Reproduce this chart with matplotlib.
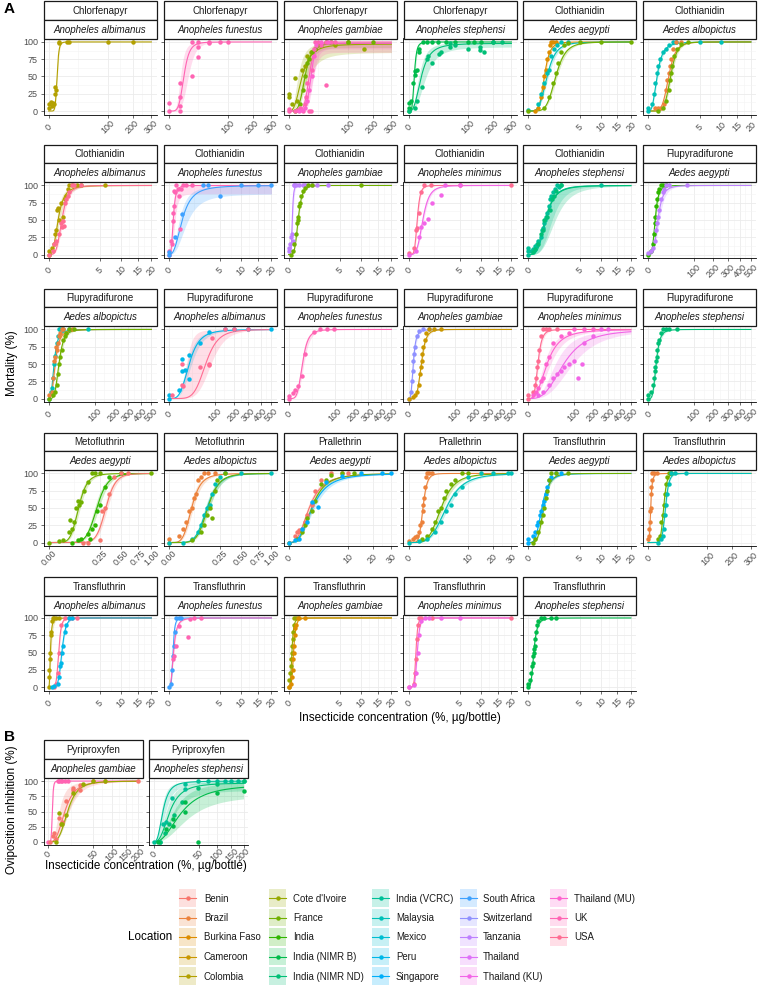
import numpy as np
import matplotlib
matplotlib.use("Agg")
import matplotlib.pyplot as plt
from matplotlib.patches import Rectangle

plt.rcParams['font.family'] = ['Liberation Sans', 'DejaVu Sans']

W, H = 762, 991

LOCATIONS = ["Benin", "Brazil", "Burkina Faso", "Cameroon", "Colombia", "Cote d'Ivoire",
             "France", "India", "India (NIMR B)", "India (NIMR ND)", "India (VCRC)",
             "Malaysia", "Mexico", "Peru", "Singapore", "South Africa", "Switzerland",
             "Tanzania", "Thailand", "Thailand (KU)", "Thailand (MU)", "UK", "USA"]

TICKS_CHLOR = [0, 100, 200, 300]
TICKS_20 = [0, 5, 10, 15, 20]
TICKS_FLUPY = [0, 100, 200, 300, 400, 500]
TICKS_METO = [0, 0.25, 0.5, 0.75, 1.0]
TICKS_PRALL = [0, 10, 20, 30]
TICKS_PYRI = [0, 50, 100, 150, 200]
YTICKS = [0, 25, 50, 75, 100]

# series: (location, concentrations, mortality, (ec50, slope, top, ec_lo, ec_hi, top_lo))
chlorfenapyr_albimanus = [
    ("Colombia", [0, 0, 0.1, 0.3, 0.5, 0.8, 1.0, 1.2, 1.4, 2.9, 3.2, 10, 12, 100, 200],
     [10, 5, 13, 8, 12, 10, 25, 35, 30, 100, 98, 100, 100, 100, 100], (2.0, 4.5, 100, 1.8, 2.2, 100)),
]
chlorfenapyr_funestus = [
    ("UK", [0, 0, 4, 4, 4, 4, 15, 15, 24, 24, 24, 47, 47, 74, 100],
     [0, 12, 40, 20, 8, 0, 50, 100, 92, 78, 100, 98, 100, 100, 100], (6.6, 2.8, 100, 4, 11, 100)),
]
chlorfenapyr_gambiae = [
    ("Cote d'Ivoire", [0, 0, 0.3, 1.3, 2, 5, 8, 10, 14, 20, 24, 40, 60, 100, 160],
     [20, 25, 10, 48, 15, 60, 65, 80, 85, 90, 95, 100, 95, 100, 90], (5, 1.5, 97, 2.5, 9, 85)),
    ("France", [1, 2, 4, 6, 8, 10, 12, 15, 20, 30, 50, 100, 200],
     [0, 2, 10, 30, 50, 70, 75, 85, 90, 95, 100, 100, 100], (7.5, 2.5, 98, 6, 9, 92)),
    ("UK", [0, 0, 1, 2, 4, 6, 8, 9, 10, 12, 14, 15, 18, 20, 25, 30, 40, 40, 50, 60],
     [0, 3, 0, 2, 5, 0, 10, 20, 40, 0, 0, 60, 90, 100, 100, 95, 38, 100, 100, 100], (12, 4, 100, 9, 16, 85)),
    ("Thailand (MU)", [3, 5, 8, 10, 12, 15, 18, 22, 30, 45],
     [0, 2, 5, 15, 30, 50, 80, 95, 100, 100], (14, 5, 98, 11, 17, 90)),
]
chlorfenapyr_stephensi = [
    ("India (NIMR B)", [0, 0, 0, 0.2, 0.5, 1, 1.2, 2, 3, 3.2, 6, 10, 15, 25, 40, 60, 100, 120, 150, 200],
     [0, 5, 12, 15, 40, 52, 58, 60, 85, 90, 100, 100, 100, 100, 100, 100, 100, 100, 100, 100],
     (0.9, 2.5, 100, 0.7, 1.1, 100)),
    ("India (NIMR ND)", [0, 1, 2, 5, 9.5, 11, 15, 26, 30, 49, 49, 60, 100, 146, 146, 160, 200, 250],
     [0, 5, 15, 35, 75, 80, 70, 82, 85, 98, 92, 95, 90, 88, 92, 85, 100, 100], (4.5, 1.5, 98, 3, 8, 93)),
]
clothianidin_aegypti = [
    ("Burkina Faso", [0.1, 0.2, 0.3, 0.4, 0.5, 0.6, 0.7, 0.8, 0.9, 1.0, 1.2, 1.5],
     [0, 5, 20, 35, 50, 60, 75, 85, 95, 100, 100, 100], (0.5, 3, 100, 0.45, 0.56, 100)),
    ("Malaysia", [0, 0.2, 0.3, 0.5, 0.7, 0.8, 1.0, 1.3, 1.6, 2, 3],
     [2, 10, 25, 40, 55, 60, 80, 90, 95, 100, 100], (0.68, 2.2, 100, 0.6, 0.78, 100)),
    ("France", [0, 0.5, 0.8, 1.2, 1.5, 1.7, 2, 2.5, 3, 5, 10, 20],
     [0, 5, 20, 40, 55, 70, 85, 95, 98, 100, 100, 100], (1.45, 2.8, 100, 1.3, 1.6, 100)),
]
clothianidin_albopictus = [
    ("Malaysia", [0, 0, 0.03, 0.06, 0.1, 0.15, 0.2, 0.25, 0.4, 0.6, 0.8, 1.2, 1.5, 5, 10],
     [0, 5, 10, 25, 40, 55, 65, 75, 85, 90, 95, 100, 100, 100, 100], (0.15, 1.6, 100, 0.12, 0.18, 100)),
    ("Brazil", [0.1, 0.2, 0.3, 0.5, 0.6, 0.7, 0.8, 0.9, 1.0, 1.2, 1.5, 2],
     [5, 5, 5, 10, 30, 45, 55, 65, 75, 90, 100, 100], (0.8, 3, 100, 0.72, 0.88, 100)),
    ("France", [0.2, 0.4, 0.6, 0.8, 0.9, 1.0, 1.1, 1.3, 1.6, 2, 3],
     [0, 5, 15, 30, 45, 55, 65, 80, 90, 97, 100], (0.95, 3.5, 100, 0.87, 1.05, 100)),
]
clothianidin_albimanus = [
    ("Colombia", [0, 0, 0.02, 0.05, 0.08, 0.1, 0.12, 0.15, 0.2, 0.3, 0.4, 0.5, 0.6, 0.7, 0.8, 1, 1.5, 2, 6],
     [0, 5, 10, 15, 30, 35, 65, 68, 50, 75, 55, 80, 85, 95, 100, 100, 100, 100, 100],
     (0.17, 1.6, 100, 0.12, 0.24, 100)),
    ("USA", [0, 0.03, 0.05, 0.1, 0.2, 0.3, 0.35, 0.4, 0.45, 0.5, 0.6, 0.7, 0.8, 1.0, 1.2, 2],
     [0, 5, 15, 20, 30, 45, 40, 48, 42, 75, 80, 85, 90, 100, 100, 100], (0.33, 2.2, 100, 0.27, 0.4, 100)),
]
clothianidin_funestus = [
    ("UK", [0, 0, 0.01, 0.02, 0.03, 0.04, 0.05, 0.06, 0.08, 0.1, 0.15, 0.2, 0.25, 0.3, 0.4, 0.6, 1.0],
     [5, 0, 20, 15, 60, 48, 92, 70, 90, 100, 95, 85, 37, 95, 100, 100, 100], (0.04, 2.0, 100, 0.025, 0.07, 88)),
    ("South Africa", [0, 0, 0.08, 0.33, 2.3, 3, 5, 10, 15, 20],
     [0, 3, 25, 58, 100, 100, 85, 100, 100, 100], (0.35, 1.4, 100, 0.22, 0.6, 88)),
]
clothianidin_gambiae = [
    ("Tanzania", [0, 0, 0.005, 0.01, 0.02, 0.03, 0.05, 0.06, 0.1, 0.2, 0.4, 0.5, 1, 1.5, 3],
     [5, 10, 15, 25, 30, 20, 100, 100, 100, 100, 100, 100, 100, 100, 100], (0.025, 3, 100, 0.018, 0.034, 100)),
    ("France", [0.01, 0.03, 0.06, 0.1, 0.12, 0.15, 0.18, 0.2, 0.25, 0.3, 0.4, 0.5, 0.7, 1, 10],
     [0, 5, 15, 30, 45, 50, 55, 70, 75, 85, 92, 97, 100, 100, 100], (0.17, 2.5, 100, 0.15, 0.19, 100)),
]
clothianidin_minimus = [
    ("USA", [0, 0.05, 0.1, 0.13, 0.2, 0.3, 0.45, 0.95, 5, 20],
     [2, 10, 35, 38, 60, 90, 100, 100, 100, 100], (0.14, 3, 100, 0.12, 0.16, 100)),
    ("Thailand (KU)", [0, 0.1, 0.2, 0.3, 0.45, 0.7, 1, 2, 2.5, 5],
     [0, 5, 25, 40, 45, 52, 75, 86, 100, 100], (0.38, 2.2, 100, 0.33, 0.43, 100)),
]
clothianidin_stephensi = [
    ("India (VCRC)", [0, 0, 0, 0.02, 0.05, 0.1, 0.15, 0.2, 0.3, 0.35, 0.4, 0.5, 0.55, 0.6, 0.7, 0.8, 0.9, 1.0,
                      1.2, 1.4, 1.6, 1.8, 2.0, 10],
     [0, 5, 10, 5, 8, 12, 15, 20, 25, 35, 38, 45, 50, 55, 60, 70, 80, 85, 90, 95, 100, 98, 100, 100],
     (0.6, 2.0, 100, 0.5, 1.1, 100)),
    ("India (NIMR ND)", [0.05, 0.1, 0.2, 0.3, 0.4, 0.5, 0.7, 0.9, 1.1, 1.3, 1.5, 2],
     [3, 8, 15, 30, 35, 50, 55, 65, 80, 85, 92, 100], (0.55, 1.8, 100, 0.45, 1.4, 100)),
]
flupyradifurone_aegypti = [
    ("India", [0, 0.5, 1, 1.5, 2, 2.5, 3, 4, 5, 6, 8, 10, 15],
     [0, 5, 15, 30, 45, 55, 70, 80, 90, 95, 100, 100, 100], (2.3, 2.2, 100, 1.8, 2.8, 100)),
    ("Tanzania", [0, 0.5, 1, 2, 3, 4, 5, 6, 8, 10, 12, 15, 20, 70],
     [2, 5, 10, 20, 35, 45, 55, 65, 80, 90, 95, 100, 100, 100], (4.5, 2.0, 100, 3.3, 6, 100)),
]
flupyradifurone_albopictus = [
    ("Malaysia", [0, 0.3, 0.5, 1, 1.5, 2, 3, 4, 5, 6, 8, 10, 20, 75],
     [0, 10, 15, 30, 50, 62, 80, 90, 100, 100, 100, 100, 100, 100], (1.4, 1.6, 100, 1.1, 1.8, 100)),
    ("Brazil", [0, 0.5, 1, 1.5, 2, 2.5, 3, 4, 5, 6, 8, 10, 15, 25],
     [5, 10, 30, 55, 60, 75, 70, 80, 90, 95, 100, 100, 95, 100], (2.0, 1.6, 100, 1.6, 2.5, 100)),
    ("France", [0, 1, 2, 3, 4, 5, 6, 8, 10, 12, 15, 20, 30],
     [0, 5, 10, 20, 35, 50, 60, 70, 85, 90, 95, 100, 100], (5, 2.2, 100, 4.2, 6, 100)),
]
flupyradifurone_albimanus = [
    ("Peru", [0, 0, 4.8, 8.5, 9, 13, 19, 19, 48, 77, 150, 200, 300, 500],
     [0, 5, 12, 57, 40, 42, 63, 28, 80, 97, 100, 100, 100, 100], (20, 2.0, 100, 16, 25, 100)),
    ("USA", [0.5, 9, 8.5, 10, 48, 77, 77, 90, 150, 200, 300],
     [5, 50, 20, 18, 45, 50, 48, 88, 100, 100, 100], (65, 3, 100, 15, 85, 100)),
]
flupyradifurone_funestus = [
    ("UK", [0, 0, 0.9, 2.1, 4.2, 8.5, 13, 30, 48, 70, 97],
     [0, 3, 8, 12, 18, 32, 64, 97, 100, 100, 100], (9, 2.5, 100, 7.5, 11, 100)),
]
flupyradifurone_gambiae = [
    ("Switzerland", [0, 0.2, 0.5, 0.8, 1, 1.5, 2, 3, 5, 10, 20],
     [0, 10, 25, 40, 55, 65, 75, 90, 98, 100, 100], (1.0, 1.8, 100, 0.8, 1.3, 100)),
    ("Cameroon", [0, 1, 2, 3, 5, 6, 7, 8, 9, 10, 12, 15, 20, 30, 50],
     [0, 2, 5, 10, 20, 35, 45, 55, 65, 75, 85, 95, 100, 100, 100], (7.5, 2.8, 100, 6.8, 8.3, 100)),
]
flupyradifurone_minimus = [
    ("USA", [0, 0, 1, 2, 3, 4, 5, 6, 8, 10, 15, 20, 40],
     [0, 5, 10, 20, 30, 45, 55, 70, 90, 100, 100, 100, 100], (4.5, 2.5, 100, 3.8, 5.3, 100)),
    ("Thailand (MU)", [1, 3, 5, 8, 10, 15, 20, 30, 50, 80, 100, 150, 200],
     [5, 10, 15, 25, 30, 50, 60, 80, 90, 95, 100, 100, 100], (17, 1.5, 100, 12, 24, 100)),
    ("Thailand (KU)", [5, 10, 20, 30, 40, 50, 60, 80, 100, 120, 140, 150, 200, 250, 300],
     [5, 10, 20, 30, 35, 40, 45, 50, 55, 30, 50, 80, 90, 100, 100], (60, 1.6, 100, 35, 95, 100)),
]
flupyradifurone_stephensi = [
    ("India (NIMR ND)", [0, 0, 0.5, 1, 1.5, 2, 2.5, 3, 3.5, 4, 5, 6, 8, 10, 15, 20, 40],
     [0, 5, 10, 20, 30, 40, 45, 55, 60, 70, 80, 85, 95, 100, 100, 100, 100], (3.0, 2.2, 100, 2.5, 3.6, 100)),
]
metofluthrin_aegypti = [
    ("France", [0, 0.01, 0.02, 0.04, 0.045, 0.05, 0.06, 0.07, 0.08, 0.09, 0.1, 0.12, 0.15, 0.18, 0.2, 0.25, 1.0],
     [0, 2, 3, 15, 32, 20, 30, 50, 60, 55, 58, 75, 88, 100, 100, 100, 100], (0.085, 3.5, 100, 0.075, 0.095, 100)),
    ("India", [0.05, 0.08, 0.1, 0.15, 0.16, 0.18, 0.2, 0.22, 0.25, 0.3, 0.35, 0.5],
     [0, 3, 5, 12, 5, 20, 25, 45, 55, 80, 95, 100], (0.22, 4.5, 100, 0.2, 0.24, 100)),
    ("Benin", [0.11, 0.15, 0.25, 0.27, 0.3, 0.35, 0.4, 0.5, 0.6],
     [0, 0, 3, 45, 50, 70, 95, 100, 100], (0.31, 6, 100, 0.29, 0.33, 100)),
]
metofluthrin_albopictus = [
    ("Brazil", [0, 0, 0.01, 0.02, 0.03, 0.04, 0.05, 0.06, 0.07, 0.08, 0.1, 0.12, 0.15, 0.2],
     [0, 5, 10, 20, 30, 45, 50, 65, 70, 90, 95, 100, 100, 100], (0.05, 2.5, 100, 0.042, 0.058, 100)),
    ("Malaysia", [0, 0.02, 0.05, 0.08, 0.1, 0.12, 0.14, 0.16, 0.18, 0.2, 0.25, 0.3, 0.5, 1.0],
     [0, 0, 5, 15, 25, 40, 50, 55, 70, 85, 95, 100, 100, 100], (0.14, 3.2, 100, 0.125, 0.155, 100)),
    ("France", [0.05, 0.1, 0.12, 0.14, 0.16, 0.18, 0.2, 0.22, 0.3],
     [3, 15, 25, 40, 50, 35, 75, 90, 100], (0.145, 3.5, 100, 0.13, 0.16, 100)),
]
prallethrin_aegypti = [
    ("Benin", [0, 0.1, 0.2, 0.3, 0.5, 0.8, 1, 1.5, 2, 3, 5, 8, 10],
     [0, 10, 15, 18, 20, 30, 40, 55, 75, 90, 100, 100, 100], (1.2, 1.5, 100, 1.0, 1.4, 100)),
    ("France", [0, 0.2, 0.5, 0.8, 1, 1.5, 2, 3, 4, 5, 8, 12],
     [0, 5, 15, 25, 35, 45, 60, 85, 90, 98, 100, 100], (1.5, 1.7, 100, 1.3, 1.7, 100)),
    ("Singapore", [0, 0.1, 0.3, 0.5, 1.0, 1.5, 2.5, 4, 8, 15, 25, 30],
     [0, 3, 5, 20, 30, 58, 52, 87, 97, 100, 100, 100], (1.6, 1.5, 100, 1.35, 1.9, 100)),
]
prallethrin_albopictus = [
    ("Brazil", [0, 0.05, 0.1, 0.2, 0.3, 0.4, 0.5, 0.55, 0.6, 0.7, 0.8, 0.9, 1.0, 1.2, 1.5],
     [2, 5, 8, 10, 15, 25, 30, 45, 55, 65, 80, 95, 100, 100, 100], (0.58, 3.5, 100, 0.54, 0.62, 100)),
    ("France", [0.5, 1, 1.5, 2, 2.5, 3, 3.5, 4, 5, 6, 8, 10],
     [5, 10, 20, 30, 45, 50, 65, 75, 85, 90, 100, 100], (3.0, 2.4, 100, 2.7, 3.4, 100)),
    ("Malaysia", [0, 0.3, 1, 2, 3, 4, 5, 6, 8, 10, 15, 20, 28, 30],
     [0, 2, 5, 15, 30, 45, 55, 70, 80, 95, 100, 100, 100, 100], (4.0, 2.2, 100, 3.6, 4.5, 100)),
]
transfluthrin_aegypti = [
    ("Singapore", [0, 0, 0.05, 0.1, 0.15, 0.2, 0.25, 0.3, 0.4, 0.5, 0.6, 0.7, 0.8, 1, 1.5, 2],
     [0, 5, 10, 15, 25, 30, 40, 45, 55, 60, 70, 80, 90, 95, 100, 100], (0.35, 2.0, 100, 0.31, 0.4, 100)),
    ("France", [0.05, 0.1, 0.2, 0.3, 0.4, 0.5, 0.6, 0.7, 0.8, 1, 1.5, 3],
     [0, 5, 15, 30, 40, 50, 65, 75, 90, 100, 100, 100], (0.45, 2.6, 100, 0.41, 0.5, 100)),
]
transfluthrin_albopictus = [
    ("Brazil", [0, 0.02, 0.05, 0.1, 0.15, 0.2, 0.25, 0.3, 0.4, 0.5, 1, 2],
     [5, 10, 20, 30, 45, 50, 70, 80, 90, 100, 100, 100], (0.18, 1.8, 100, 0.15, 0.22, 100)),
    ("France", [3, 4, 5, 6, 7, 8, 9, 10, 12, 15],
     [5, 10, 30, 40, 55, 70, 85, 95, 100, 100], (6.8, 5, 100, 6.3, 7.3, 100)),
    ("Malaysia", [3, 5, 6, 7, 8, 9, 10, 12, 15, 20, 40],
     [0, 5, 10, 20, 40, 55, 70, 85, 100, 100, 100], (8.5, 5, 100, 8, 9, 100)),
]
transfluthrin_albimanus = [
    ("Colombia", [0, 0, 0, 0.002, 0.005, 0.01, 0.015, 0.02, 0.03, 0.05, 0.1, 0.2],
     [0, 15, 25, 40, 50, 75, 80, 95, 100, 100, 100, 100], (0.006, 1.5, 100, 0.003, 0.012, 100)),
    ("USA", [0.05, 0.1, 0.15, 0.2, 0.3, 0.5, 0.8, 1, 1.5],
     [0, 5, 20, 50, 90, 100, 100, 100, 100], (0.19, 4, 100, 0.17, 0.21, 100)),
    ("Peru", [0.02, 0.05, 0.15, 0.2, 0.25, 0.3, 0.35, 0.4, 0.5, 0.6, 0.8, 1],
     [0, 2, 5, 15, 30, 35, 50, 60, 80, 90, 100, 100], (0.33, 3.5, 100, 0.3, 0.36, 100)),
]
transfluthrin_funestus = [
    ("South Africa", [0, 0.01, 0.02, 0.03, 0.05, 0.08, 0.1, 0.2, 0.3],
     [0, 5, 25, 45, 60, 80, 100, 100, 100], (0.035, 2.5, 100, 0.03, 0.04, 100)),
    ("UK", [0.03, 0.05, 0.1, 0.2, 0.7, 0.9, 1.2, 2],
     [40, 45, 60, 88, 73, 98, 100, 100], (0.045, 1.6, 100, 0.035, 0.055, 100)),
]
transfluthrin_gambiae = [
    ("Cote d'Ivoire", [0, 0, 0.005, 0.01, 0.015, 0.02, 0.025, 0.03, 0.04, 0.05, 0.06, 0.1],
     [0, 10, 20, 30, 40, 50, 60, 70, 80, 90, 100, 100], (0.02, 2, 100, 0.017, 0.024, 100)),
    ("Burkina Faso", [0, 0.01, 0.02, 0.03, 0.04, 0.05, 0.06, 0.07, 0.08, 0.1, 0.15, 0.2, 0.5],
     [0, 5, 15, 25, 40, 50, 60, 75, 85, 90, 100, 100, 100], (0.045, 2.3, 100, 0.04, 0.05, 100)),
]
transfluthrin_minimus = [
    ("USA", [0, 0.05, 0.08, 0.1, 0.12, 0.15, 0.2, 0.3, 1, 20],
     [0, 5, 20, 40, 70, 90, 100, 100, 100, 100], (0.1, 4, 100, 0.092, 0.108, 100)),
    ("Thailand (KU)", [0, 0.05, 0.1, 0.15, 0.2, 0.3, 0.5, 0.8, 2, 5],
     [0, 3, 20, 50, 75, 95, 100, 100, 100, 100], (0.14, 3.5, 100, 0.125, 0.155, 100)),
]
transfluthrin_stephensi = [
    ("India (NIMR B)", [0, 0, 0.01, 0.02, 0.03, 0.04, 0.05, 0.06, 0.07, 0.08, 0.1, 0.12, 0.15, 0.2, 0.3, 0.5, 1, 1.5],
     [0, 5, 10, 20, 30, 35, 45, 50, 55, 60, 70, 80, 90, 95, 100, 100, 100, 100], (0.06, 1.8, 100, 0.05, 0.07, 100)),
]
pyriproxyfen_gambiae = [
    ("UK", [0, 2.5, 3, 4, 5, 7, 10],
     [0, 100, 100, 100, 100, 100, 100], (0.45, 4, 100, 0.4, 0.5, 100)),
    ("Benin", [0.1, 0.5, 1, 1.5, 3, 5, 8, 15, 15, 25, 25, 50, 80, 200],
     [0, 10, 15, 5, 40, 32, 68, 88, 85, 85, 93, 100, 100, 100], (7, 1.7, 100, 3, 11, 100)),
    ("Cote d'Ivoire", [1.5, 3, 4, 5, 8, 15, 30, 50, 80],
     [0, 48, 30, 30, 45, 80, 95, 100, 100], (9.5, 2.0, 100, 8.5, 10.5, 100)),
]
pyriproxyfen_stephensi = [
    ("India (VCRC)", [0, 1, 2, 4, 8.7, 25, 25, 49, 74, 100, 126, 150, 177, 200],
     [0, 0, 30, 32, 72, 87, 95, 100, 100, 100, 100, 100, 100, 100], (2.2, 1.5, 100, 1.5, 3.5, 97)),
    ("India (NIMR ND)", [1, 3, 6, 10, 20, 49, 100, 200],
     [0, 15, 30, 45, 65, 88, 95, 100], (6.4, 1.4, 97, 4, 10, 85)),
    ("India (NIMR B)", [0.5, 4, 9.3, 9.3, 24, 24, 49, 100, 200],
     [0, 22, 37, 26, 66, 50, 0, 80, 84], (19, 1.2, 95, 10, 30, 78)),
]

PANELS_A = [
    ("Chlorfenapyr", "Anopheles albimanus", chlorfenapyr_albimanus, TICKS_CHLOR),
    ("Chlorfenapyr", "Anopheles funestus", chlorfenapyr_funestus, TICKS_CHLOR),
    ("Chlorfenapyr", "Anopheles gambiae", chlorfenapyr_gambiae, TICKS_CHLOR),
    ("Chlorfenapyr", "Anopheles stephensi", chlorfenapyr_stephensi, TICKS_CHLOR),
    ("Clothianidin", "Aedes aegypti", clothianidin_aegypti, TICKS_20),
    ("Clothianidin", "Aedes albopictus", clothianidin_albopictus, TICKS_20),
    ("Clothianidin", "Anopheles albimanus", clothianidin_albimanus, TICKS_20),
    ("Clothianidin", "Anopheles funestus", clothianidin_funestus, TICKS_20),
    ("Clothianidin", "Anopheles gambiae", clothianidin_gambiae, TICKS_20),
    ("Clothianidin", "Anopheles minimus", clothianidin_minimus, TICKS_20),
    ("Clothianidin", "Anopheles stephensi", clothianidin_stephensi, TICKS_20),
    ("Flupyradifurone", "Aedes aegypti", flupyradifurone_aegypti, TICKS_FLUPY),
    ("Flupyradifurone", "Aedes albopictus", flupyradifurone_albopictus, TICKS_FLUPY),
    ("Flupyradifurone", "Anopheles albimanus", flupyradifurone_albimanus, TICKS_FLUPY),
    ("Flupyradifurone", "Anopheles funestus", flupyradifurone_funestus, TICKS_FLUPY),
    ("Flupyradifurone", "Anopheles gambiae", flupyradifurone_gambiae, TICKS_FLUPY),
    ("Flupyradifurone", "Anopheles minimus", flupyradifurone_minimus, TICKS_FLUPY),
    ("Flupyradifurone", "Anopheles stephensi", flupyradifurone_stephensi, TICKS_FLUPY),
    ("Metofluthrin", "Aedes aegypti", metofluthrin_aegypti, TICKS_METO),
    ("Metofluthrin", "Aedes albopictus", metofluthrin_albopictus, TICKS_METO),
    ("Prallethrin", "Aedes aegypti", prallethrin_aegypti, TICKS_PRALL),
    ("Prallethrin", "Aedes albopictus", prallethrin_albopictus, TICKS_PRALL),
    ("Transfluthrin", "Aedes aegypti", transfluthrin_aegypti, TICKS_20),
    ("Transfluthrin", "Aedes albopictus", transfluthrin_albopictus, TICKS_CHLOR),
    ("Transfluthrin", "Anopheles albimanus", transfluthrin_albimanus, TICKS_20),
    ("Transfluthrin", "Anopheles funestus", transfluthrin_funestus, TICKS_20),
    ("Transfluthrin", "Anopheles gambiae", transfluthrin_gambiae, TICKS_20),
    ("Transfluthrin", "Anopheles minimus", transfluthrin_minimus, TICKS_20),
    ("Transfluthrin", "Anopheles stephensi", transfluthrin_stephensi, TICKS_20),
]
PANELS_B = [
    ("Pyriproxyfen", "Anopheles gambiae", pyriproxyfen_gambiae, TICKS_PYRI),
    ("Pyriproxyfen", "Anopheles stephensi", pyriproxyfen_stephensi, TICKS_PYRI),
]


def hcl_to_hex(h, c=100.0, l=65.0):
    WY, Wu, Wv = 100.0, 0.1978398, 0.4683363
    hr = np.deg2rad(h)
    U, V = c * np.cos(hr), c * np.sin(hr)
    Y = WY * (((l + 16) / 116) ** 3 if l > 7.999592 else l / 903.3)
    u = U / (13 * l) + Wu
    v = V / (13 * l) + Wv
    X = 9.0 * Y * u / (4 * v)
    Z = -X / 3 - 5 * Y + 3 * Y / v

    def g(t):
        t = t / WY
        t = 1.055 * t ** (1 / 2.4) - 0.055 if t > 0.00304 else 12.92 * t
        return min(max(t, 0.0), 1.0)
    r = g(3.240479 * X - 1.537150 * Y - 0.498535 * Z)
    gg = g(-0.969256 * X + 1.875992 * Y + 0.041556 * Z)
    b = g(0.055648 * X - 0.204043 * Y + 1.057311 * Z)
    return '#%02X%02X%02X' % (round(r * 255), round(gg * 255), round(b * 255))


n = len(LOCATIONS)
hues = np.linspace(15, 375, n + 1)[:-1]
COLORS = {loc: hcl_to_hex(h) for loc, h in zip(LOCATIONS, hues)}


def fwd(x):
    x = np.asarray(x, dtype=float)
    return np.sign(x) * np.sqrt(np.abs(x))


def inv(s):
    s = np.asarray(s, dtype=float)
    return np.sign(s) * s ** 2


def loglogistic(x, ec50, b, top):
    x = np.asarray(x, dtype=float)
    with np.errstate(divide='ignore', over='ignore', invalid='ignore'):
        y = top / (1.0 + (ec50 / x) ** b)
    y[x <= 0] = 0.0
    return y


fig = plt.figure(figsize=(W / 100, H / 100), dpi=100)
fig.patch.set_facecolor('white')


def px_axes(x, y, w, h, **kw):
    return fig.add_axes([x / W, 1 - (y + h) / H, w / W, h / H], **kw)


overlay = px_axes(0, 0, W, H)
overlay.set_xlim(0, W)
overlay.set_ylim(H, 0)
overlay.axis('off')
overlay.set_zorder(5)
overlay.patch.set_alpha(0)

GRID_MAJOR = '#EBEBEB'
GRID_MINOR = '#F3F3F3'
TICK_COL = '#4D4D4D'


def fmt_tick(t, ticks):
    if max(ticks) <= 1:
        return '%.2f' % t
    return '%d' % t


def draw_panel(x0, ytop, w, h, strip_h, ins, sp, series, ticks, show_y, xpad=6.5):
    # strips
    for k, (txt, style) in enumerate([(ins, 'normal'), (sp, 'italic')]):
        sy = ytop + k * strip_h
        overlay.add_patch(Rectangle((x0, sy), w, strip_h, facecolor='white',
                                    edgecolor='#1A1A1A', lw=0.9))
        overlay.text(x0 + w / 2, sy + strip_h / 2 + 0.5, txt, ha='center', va='center',
                     fontsize=7, style=style, color='#1A1A1A')
    ax = px_axes(x0, ytop + 2 * strip_h, w, h)
    ax.set_xscale('function', functions=(fwd, inv))
    xmax = max(ticks)
    smax = np.sqrt(xmax)
    ax.set_xlim(inv(-0.05 * smax), inv(1.05 * smax))
    ax.set_ylim(-5, 105)
    xs = inv(np.linspace(0, smax, 400))
    for loc, cx, cy, (ec50, b, top, ec_lo, ec_hi, top_lo) in series:
        c = COLORS[loc]
        lo = loglogistic(xs, ec_hi, b, top_lo)
        hi = loglogistic(xs, ec_lo, b, 100)
        ax.fill_between(xs, np.minimum(lo, hi), np.maximum(lo, hi), color=c, alpha=0.22, lw=0, zorder=1)
    for loc, cx, cy, (ec50, b, top, ec_lo, ec_hi, top_lo) in series:
        ax.plot(xs, loglogistic(xs, ec50, b, top), color=COLORS[loc], lw=0.8, zorder=2)
    for loc, cx, cy, prm in series:
        ax.plot(cx, cy, 'o', color=COLORS[loc], ms=3.2, mew=0, zorder=3, clip_on=False)
    ax.set_xticks(ticks)
    ax.set_xticklabels([fmt_tick(t, ticks) for t in ticks], rotation=45, ha='center',
                       va='center', rotation_mode='anchor')
    st = np.sqrt(ticks)
    minors = [((a + bb) / 2) ** 2 for a, bb in zip(st[:-1], st[1:])]
    ax.set_xticks(minors, minor=True)
    ax.set_yticks(YTICKS)
    ax.set_yticks([12.5, 37.5, 62.5, 87.5], minor=True)
    if not show_y:
        ax.set_yticklabels([])
    ax.grid(which='major', color=GRID_MAJOR, lw=0.6, zorder=0)
    ax.grid(which='minor', color=GRID_MINOR, lw=0.4, zorder=0)
    ax.set_axisbelow(True)
    ax.tick_params(which='minor', length=0)
    ax.tick_params(which='major', length=2.5, width=0.5, color='#333333',
                   labelsize=6.5, labelcolor=TICK_COL)
    ax.tick_params(axis='x', pad=xpad)
    ax.tick_params(axis='y', pad=1.5)
    for s in ['top', 'right']:
        ax.spines[s].set_visible(False)
    for s in ['left', 'bottom']:
        ax.spines[s].set_color('black')
        ax.spines[s].set_linewidth(0.6)
    return ax


COL_LEFT = [43.5, 163.5, 283.5, 403.5, 523.0, 643.0]
ROW_TOP = [1.0, 144.5, 288.5, 432.5, 577.0]
for i, (ins, sp, series, ticks) in enumerate(PANELS_A):
    r, c = divmod(i, 6)
    draw_panel(COL_LEFT[c], ROW_TOP[r], 113, 76, 18.75, ins, sp, series, ticks, c == 0)

COL_LEFT_B = [43.5, 149.0]
for i, (ins, sp, series, ticks) in enumerate(PANELS_B):
    draw_panel(COL_LEFT_B[i], 740.0, 99, 67, 19.0, ins, sp, series, ticks, i == 0, xpad=4.5)

# titles
overlay.text(4, 9, 'A', fontsize=11, fontweight='bold', ha='left', va='center')
overlay.text(4, 737, 'B', fontsize=11, fontweight='bold', ha='left', va='center')
overlay.text(400, 718, 'Insecticide concentration (%, µg/bottle)', fontsize=8.4, ha='center', va='center')
overlay.text(146, 866, 'Insecticide concentration (%, µg/bottle)', fontsize=8.4, ha='center', va='center')
overlay.text(12, 363, 'Mortality (%)', fontsize=8.4, rotation=90, ha='center', va='center')
overlay.text(12, 810, 'Oviposition inhibition (%)', fontsize=8.4, rotation=90, ha='center', va='center')

# legend
overlay.text(172, 937, 'Location', fontsize=8.4, ha='right', va='center')
LEG_KEY_X = [179, 269, 372, 460, 550]
LEG_TEXT_X = [204, 293, 396, 483, 574]
LEG_ROW_Y = [898, 917.5, 937, 956.5, 976]
for k, loc in enumerate(LOCATIONS):
    cc, rr = divmod(k, 5)
    kx, ky = LEG_KEY_X[cc], LEG_ROW_Y[rr]
    col = COLORS[loc]
    overlay.add_patch(Rectangle((kx, ky - 8.6), 17.3, 17.2, facecolor=col, alpha=0.22, lw=0))
    overlay.plot([kx, kx + 17.3], [ky, ky], color=col, lw=0.8)
    overlay.plot([kx + 8.65], [ky], 'o', color=col, ms=3.2, mew=0)
    overlay.text(LEG_TEXT_X[cc], ky + 0.5, loc, fontsize=6.9, ha='left', va='center', color='#1A1A1A')

fig.savefig('out.png', dpi=100, facecolor='white')
